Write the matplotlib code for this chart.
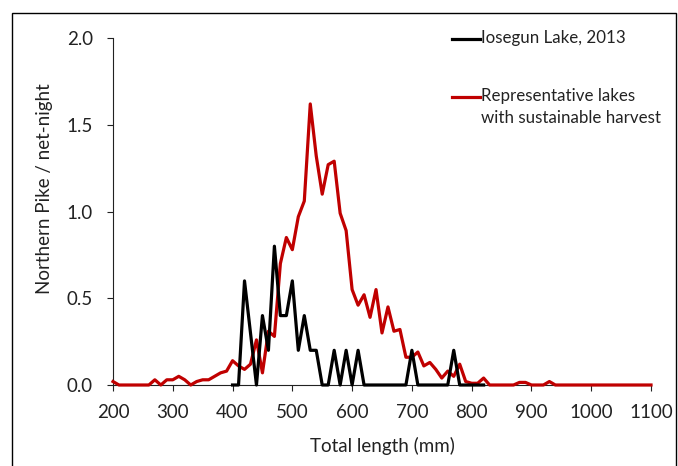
import matplotlib
matplotlib.use("Agg")
import matplotlib.pyplot as plt
from matplotlib.lines import Line2D
from matplotlib.patches import Rectangle
import numpy as np

plt.rcParams['font.family'] = ['Lato', 'DejaVu Sans']

# Iosegun Lake 2013 catch (10 mm length bins)
iosegun_length = [400, 410, 420, 430, 440, 450, 460, 470, 480, 490,
                  500, 510, 520, 530, 540, 550, 560, 570, 580, 590,
                  600, 610, 620, 630, 640, 650, 660, 670, 680, 690,
                  700, 710, 720, 730, 740, 750, 760, 770, 780, 790,
                  800, 810, 820]
iosegun_cpue = [0, 0, 0.6, 0.3, 0, 0.4, 0.2, 0.8, 0.4, 0.4,
                0.6, 0.2, 0.4, 0.2, 0.2, 0, 0, 0.2, 0, 0.2,
                0, 0.2, 0, 0, 0, 0, 0, 0, 0, 0,
                0.2, 0, 0, 0, 0, 0, 0, 0.2, 0, 0,
                0, 0, 0]

# representative lakes with sustainable harvest
rep_length = list(range(200, 1101, 10))
rep_cpue = [0.02, 0, 0, 0, 0, 0, 0, 0.03, 0, 0.03,
            0.03, 0.05, 0.03, 0, 0.02, 0.03, 0.03, 0.05, 0.07, 0.08,
            0.14, 0.11, 0.09, 0.12, 0.26, 0.07, 0.31, 0.28, 0.70, 0.85,
            0.78, 0.97, 1.06, 1.62, 1.32, 1.10, 1.27, 1.29, 0.99, 0.89,
            0.55, 0.46, 0.52, 0.39, 0.55, 0.30, 0.45, 0.31, 0.32, 0.16,
            0.16, 0.19, 0.11, 0.13, 0.09, 0.04, 0.08, 0.05, 0.12, 0.02,
            0.01, 0.01, 0.04, 0, 0, 0, 0, 0, 0.015, 0.015,
            0, 0, 0, 0.02, 0, 0, 0, 0, 0, 0,
            0, 0, 0, 0, 0, 0, 0, 0, 0, 0,
            0]

labels = ['Iosegun Lake, 2013', 'Representative lakes\nwith sustainable harvest']
colors = ['#000000', '#C00000']

W, H = 678, 466
fig = plt.figure(figsize=(W / 100, H / 100), dpi=100)
ax = fig.add_axes([113 / W, 1 - 385 / H, (651 - 113) / W, (385 - 38) / H])

ax.plot(iosegun_length, iosegun_cpue, color=colors[0], lw=2.3, zorder=4, clip_on=False)
ax.plot(rep_length, rep_cpue, color=colors[1], lw=2.3, zorder=3, clip_on=False)

ax.set_xlim(200, 1100)
ax.set_ylim(0, 2.0)
ax.set_xticks(np.arange(200, 1101, 100))
ax.set_yticks(np.arange(0, 2.01, 0.5))
ax.set_yticklabels(['%.1f' % v for v in np.arange(0, 2.01, 0.5)])

for s in ['top', 'right']:
    ax.spines[s].set_visible(False)
for s in ['left', 'bottom']:
    ax.spines[s].set_linewidth(0.8)
    ax.spines[s].set_color('#222222')
ax.tick_params(axis='both', direction='out', length=4.5, width=0.8,
               color='#222222', labelsize=13.5, labelcolor='#222222')
ax.tick_params(axis='x', pad=9.5)
ax.tick_params(axis='y', pad=10)

ax.set_xlabel('Total length (mm)', fontsize=13.5, color='#222222', labelpad=11)
ax.set_ylabel('Northern Pike / net-night', fontsize=13.5, color='#222222', labelpad=9)
ax.yaxis.set_label_coords(-0.112, 0.565)

# legend keys, placed as in the original
for i, (lab, c) in enumerate(zip(labels, colors)):
    yk = [39, 97][i]
    fig.add_artist(Line2D([452 / W, 480 / W], [1 - yk / H, 1 - yk / H],
                          color=c, lw=2.3, transform=fig.transFigure))
    fig.text(481 / W, 1 - (yk - 9) / H, lab, ha='left', va='top',
             fontsize=12.2, color='#222222', linespacing=1.45)

# outer chart border
fig.add_artist(Rectangle((12 / W, -0.05), (676 - 12) / W, 1.05 - 13 / H,
                         fill=False, lw=1.0, edgecolor='black',
                         transform=fig.transFigure))

fig.savefig('out.png', dpi=100)
